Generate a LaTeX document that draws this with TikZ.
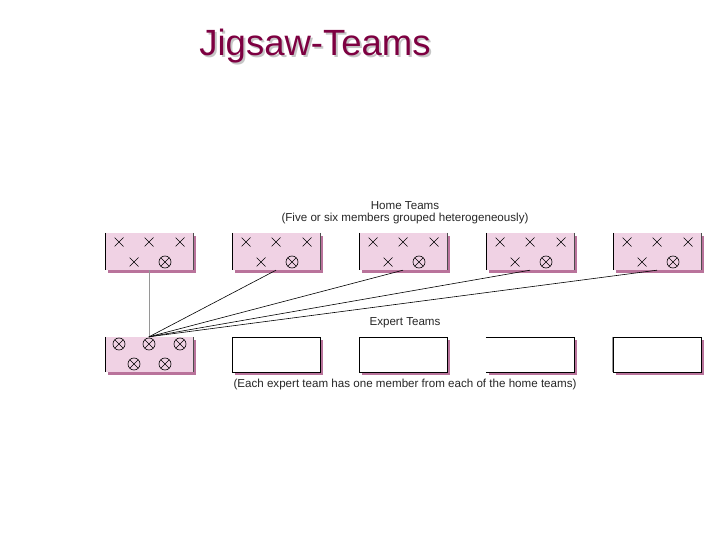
\documentclass[tikz,border=0pt]{standalone}
\usepackage{fontspec}
\setmainfont{Liberation Sans}
\usetikzlibrary{shadows}
\definecolor{pinkfill}{RGB}{240,210,228}
\definecolor{shadowc}{RGB}{185,115,155}
\definecolor{titlec}{RGB}{125,0,65}
\definecolor{linegray}{RGB}{150,150,150}
\begin{document}
\begin{tikzpicture}[x=1pt,y=-1pt,
  teambox/.style={minimum width=88pt,minimum height=37pt,inner sep=0pt,
    drop shadow={shadow xshift=3pt,shadow yshift=-3pt,fill=shadowc,opacity=1}},
  homebox/.style={teambox,fill=pinkfill},
  expbox/.style={teambox,minimum height=35pt,fill=white},
  member/.style={draw=none,inner sep=0pt,minimum size=9pt,
    path picture={\draw[line width=0.5pt] (path picture bounding box.north west)--(path picture bounding box.south east)
      (path picture bounding box.south west)--(path picture bounding box.north east);}},
  expert/.style={circle,draw,line width=0.6pt,inner sep=0pt,minimum size=12pt,
    path picture={\draw[line width=0.5pt] ([shift={(-3.8pt,3.8pt)}]path picture bounding box.center)--([shift={(3.8pt,-3.8pt)}]path picture bounding box.center)
      ([shift={(-3.8pt,-3.8pt)}]path picture bounding box.center)--([shift={(3.8pt,3.8pt)}]path picture bounding box.center);}},
  lbl/.style={font=\fontsize{11.6}{13}\selectfont,text=black!85,inner sep=0pt},
  link/.style={line width=0.6pt,black}
]
\useasboundingbox (0,0) rectangle (720,540);

% title
\node[anchor=base,font=\fontsize{36.5}{40}\selectfont,text=gray!45,inner sep=0pt] (titleshadow) at (317,58) {Jigsaw-Teams};
\node[anchor=base,font=\fontsize{36.5}{40}\selectfont,text=titlec,inner sep=0pt] (title) at (315,56) {Jigsaw-Teams};

% labels
\node[lbl] (hl1) at (405,206) {Home Teams};
\node[lbl] (hl2) at (405,219) {(Five or six members grouped heterogeneously)};
\node[lbl] (el1) at (405,323) {Expert Teams};
\node[lbl] (el2) at (405,384) {(Each expert team has one member from each of the home teams)};

% home teams
\foreach \i/\x in {1/105,2/232,3/359,4/486,5/613}{
  \node[homebox] (h\i) at (\x+44,251.5) {};
  \draw[line width=0.6pt] (h\i.north west) -- (h\i.south west);
  \draw[line width=0.6pt,black!70] (h\i.north east) -- (h\i.south east);
  \node[member] (h\i a) at (\x+14,242) {};
  \node[member] (h\i b) at (\x+44,242) {};
  \node[member] (h\i c) at (\x+75,242) {};
  \node[member] (h\i d) at (\x+29,262) {};
  \node[expert] (h\i e) at (\x+60,262) {};
}

% expert teams
\node[homebox,minimum height=35pt] (x1) at (149,354.5) {};
\draw[line width=0.6pt] (x1.north west) -- (x1.south west);
\draw[line width=0.6pt,black!70] (x1.north east) -- (x1.south east);
\foreach \n/\x/\y in {a/119/344,b/149/344,c/180/344,d/134/364,e/165/364}{
  \node[expert] (x1\n) at (\x,\y) {};
}
\node[expbox,draw,line width=0.6pt] (x2) at (276,354.5) {};
\node[expbox,draw,line width=0.6pt] (x3) at (403,354.5) {};
\node[expbox] (x4) at (530,354.5) {};
\draw[line width=0.6pt] (x4.north west) -- (x4.north east) -- (x4.south east) -- (x4.south west);
\node[expbox,draw,line width=0.6pt] (x5) at (657,354.5) {};
\draw[line width=0.6pt,black!40] (x5.north west) -- (x5.south west);

% connectors
\draw[linegray,line width=0.6pt] (x1.north) -- (h1.south);
\foreach \i in {2,3,4,5}{
  \draw[link] (x1.north) -- (h\i.south);
}
\end{tikzpicture}
\end{document}
